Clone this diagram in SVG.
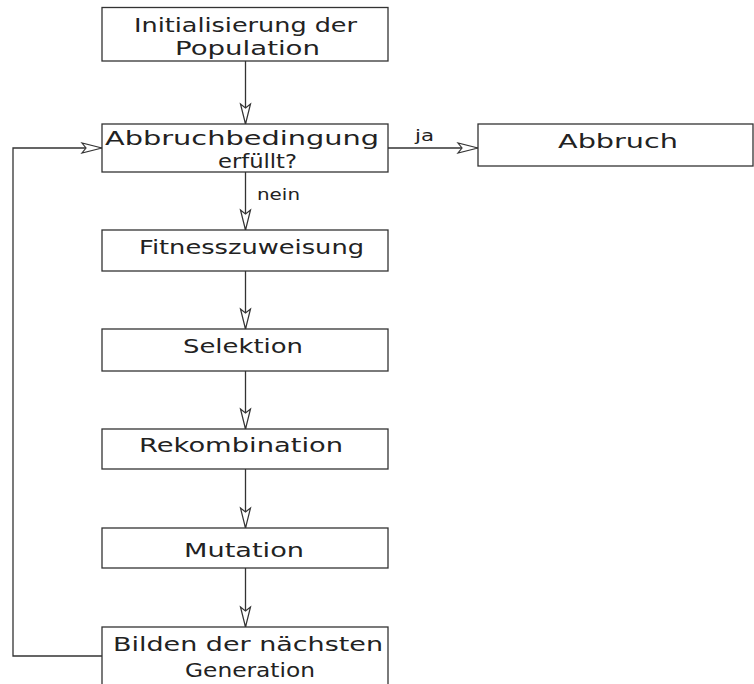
<svg xmlns="http://www.w3.org/2000/svg" width="754" height="684" viewBox="0 0 754 684">
<defs>
<style>
.box{fill:#fff;stroke:#333;stroke-width:1.3}
.t{font-family:"DejaVu Sans","Liberation Sans",sans-serif;font-size:20px;fill:#222}
.s{font-family:"DejaVu Sans","Liberation Sans",sans-serif;font-size:15px;fill:#222}
.c{fill:none;stroke:#333;stroke-width:1.3}
.ah{fill:#fff;stroke:#333;stroke-width:1.2;stroke-linejoin:miter}
</style>
<marker id="arr" viewBox="-22 -7 24 14" refX="0" refY="0" markerWidth="24" markerHeight="14" markerUnits="userSpaceOnUse" orient="auto">
<path class="ah" d="M0,0 L-20,-5 L-16,0 L-20,5 Z"/>
</marker>
</defs>
<rect width="754" height="684" fill="#fff"/>
<g id="connectors">
<line class="c" x1="245.5" y1="61" x2="245.5" y2="124" marker-end="url(#arr)"/>
<line class="c" x1="388" y1="148" x2="478" y2="148" marker-end="url(#arr)"/>
<text class="s" x="415" y="141" textLength="19" lengthAdjust="spacingAndGlyphs">ja</text>
<line class="c" x1="245.5" y1="172" x2="245.5" y2="230" marker-end="url(#arr)"/>
<text class="s" x="257" y="200" textLength="43" lengthAdjust="spacingAndGlyphs">nein</text>
<line class="c" x1="245.5" y1="271" x2="245.5" y2="329" marker-end="url(#arr)"/>
<line class="c" x1="245.5" y1="371" x2="245.5" y2="429" marker-end="url(#arr)"/>
<line class="c" x1="245.5" y1="469" x2="245.5" y2="528" marker-end="url(#arr)"/>
<line class="c" x1="245.5" y1="568" x2="245.5" y2="627" marker-end="url(#arr)"/>
<path class="c" d="M102,656 L13,656 L13,148 L102,148" marker-end="url(#arr)"/>
</g>
<g id="init">
<rect class="box" x="102" y="7.5" width="286" height="53.5"/>
<text class="t" x="134" y="32" textLength="223" lengthAdjust="spacingAndGlyphs">Initialisierung der</text>
<text class="t" x="175" y="55" textLength="145" lengthAdjust="spacingAndGlyphs">Population</text>
</g>
<g id="abbruchbedingung">
<rect class="box" x="102" y="124" width="286" height="48"/>
<text class="t" x="105" y="145" textLength="274" lengthAdjust="spacingAndGlyphs">Abbruchbedingung</text>
<text class="t" x="218" y="168" textLength="79" lengthAdjust="spacingAndGlyphs">erfüllt?</text>
</g>
<g id="abbruch">
<rect class="box" x="478" y="124" width="275" height="42"/>
<text class="t" x="558" y="148" textLength="120" lengthAdjust="spacingAndGlyphs">Abbruch</text>
</g>
<g id="fitness">
<rect class="box" x="102" y="230" width="286" height="41"/>
<text class="t" x="139" y="254" textLength="225" lengthAdjust="spacingAndGlyphs">Fitnesszuweisung</text>
</g>
<g id="selektion">
<rect class="box" x="102" y="329" width="286" height="42"/>
<text class="t" x="183" y="353" textLength="120" lengthAdjust="spacingAndGlyphs">Selektion</text>
</g>
<g id="rekombination">
<rect class="box" x="102" y="429" width="286" height="40"/>
<text class="t" x="139" y="452" textLength="204" lengthAdjust="spacingAndGlyphs">Rekombination</text>
</g>
<g id="mutation">
<rect class="box" x="102" y="528" width="286" height="40"/>
<text class="t" x="184" y="557" textLength="120" lengthAdjust="spacingAndGlyphs">Mutation</text>
</g>
<g id="bilden">
<rect class="box" x="102" y="627" width="286" height="80"/>
<text class="t" x="113" y="651" textLength="270" lengthAdjust="spacingAndGlyphs">Bilden der nächsten</text>
<text class="t" x="185" y="677" textLength="130" lengthAdjust="spacingAndGlyphs">Generation</text>
</g>
</svg>
